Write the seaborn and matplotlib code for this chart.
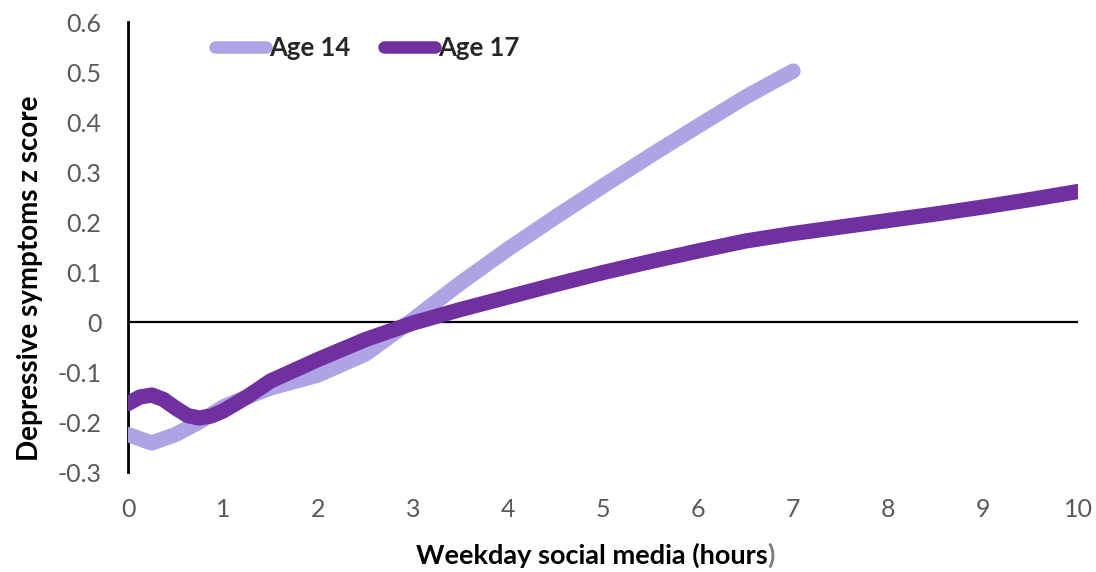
import pandas as pd
import seaborn as sns
import matplotlib.pyplot as plt

# Data
hours_14 = [0, 0.25, 0.5, 0.75, 1.0, 1.25, 1.5, 2.0, 2.5, 3.0, 3.5, 4.0, 4.5,
            5.0, 5.5, 6.0, 6.5, 7.0]
score_14 = [-0.225, -0.242, -0.225, -0.200, -0.170, -0.150, -0.132, -0.106,
            -0.064, 0.005, 0.078, 0.146, 0.210, 0.272, 0.333, 0.392, 0.450, 0.502]

hours_17 = [0, 0.125, 0.25, 0.375, 0.5, 0.625, 0.75, 0.875, 1.0, 1.25, 1.5,
            2.0, 2.5, 3.0, 3.5, 4.0, 4.5, 5.0, 5.5, 6.0, 6.5, 7.0, 7.5, 8.0,
            8.5, 9.0, 9.5, 10.0]
score_17 = [-0.163, -0.150, -0.146, -0.155, -0.172, -0.187, -0.192, -0.188,
            -0.178, -0.150, -0.118, -0.075, -0.035, -0.002, 0.025, 0.050, 0.075,
            0.099, 0.121, 0.142, 0.162, 0.177, 0.190, 0.203, 0.216, 0.230,
            0.245, 0.261]

groups = ["Age 14", "Age 17"]
colors = ["#AFA3E6", "#7030A0"]
x_ticks = list(range(0, 11))
y_ticks = [-0.3, -0.2, -0.1, 0, 0.1, 0.2, 0.3, 0.4, 0.5, 0.6]
y_tick_labels = ["-0.3", "-0.2", "-0.1", "0", "0.1", "0.2", "0.3", "0.4", "0.5", "0.6"]

df = pd.concat([
    pd.DataFrame({"hours": hours_14, "score": score_14, "group": groups[0]}),
    pd.DataFrame({"hours": hours_17, "score": score_17, "group": groups[1]}),
])

sns.set_style("white")
plt.rcParams["font.family"] = ["Lato", "DejaVu Sans"]

fig = plt.figure(figsize=(10.96, 5.72), dpi=100)
ax = fig.add_axes([0.1168, 0.1748, 0.8668, 0.7867])

ax.axhline(0, color="black", lw=1.6, zorder=1)

sns.lineplot(data=df, x="hours", y="score", hue="group", hue_order=groups,
             palette=colors, estimator=None, sort=False, lw=11,
             solid_capstyle="round", solid_joinstyle="round", ax=ax, zorder=3)

ax.set_xlim(0, 10)
ax.set_ylim(-0.3, 0.6)
ax.set_xticks(x_ticks)
ax.set_yticks(y_ticks)
ax.set_yticklabels(y_tick_labels)
ax.tick_params(axis="both", length=0, labelsize=18, colors="#595959", pad=19)

for s in ["top", "right", "bottom"]:
    ax.spines[s].set_visible(False)
ax.spines["left"].set_color("black")
ax.spines["left"].set_linewidth(2)

ax.set_xlabel("")
ax.set_ylabel("")
# x label: closing bracket is grey in the original
xl = fig.text(0.540, 0.03, "Weekday social media (hours", ha="center", va="center",
              fontsize=19.5, fontweight="bold", color="black")
ax.annotate(")", xy=(1, 0.5), xycoords=xl, ha="left", va="center",
            fontsize=19.5, fontweight="bold", color="#7F7F7F")
fig.text(0.027, 0.514, "Depressive symptoms z score", ha="center", va="center",
         rotation=90, fontsize=20, fontweight="bold", color="black")

leg = ax.legend(loc="upper left", bbox_to_anchor=(0.067, 1.02), ncol=2,
                frameon=False, handlelength=2.0, handletextpad=0.12,
                columnspacing=1.3, prop={"size": 18.5, "weight": "bold"})
for line in leg.get_lines():
    line.set_linewidth(9)
    line.set_solid_capstyle("round")

fig.savefig("out.png", dpi=100)
